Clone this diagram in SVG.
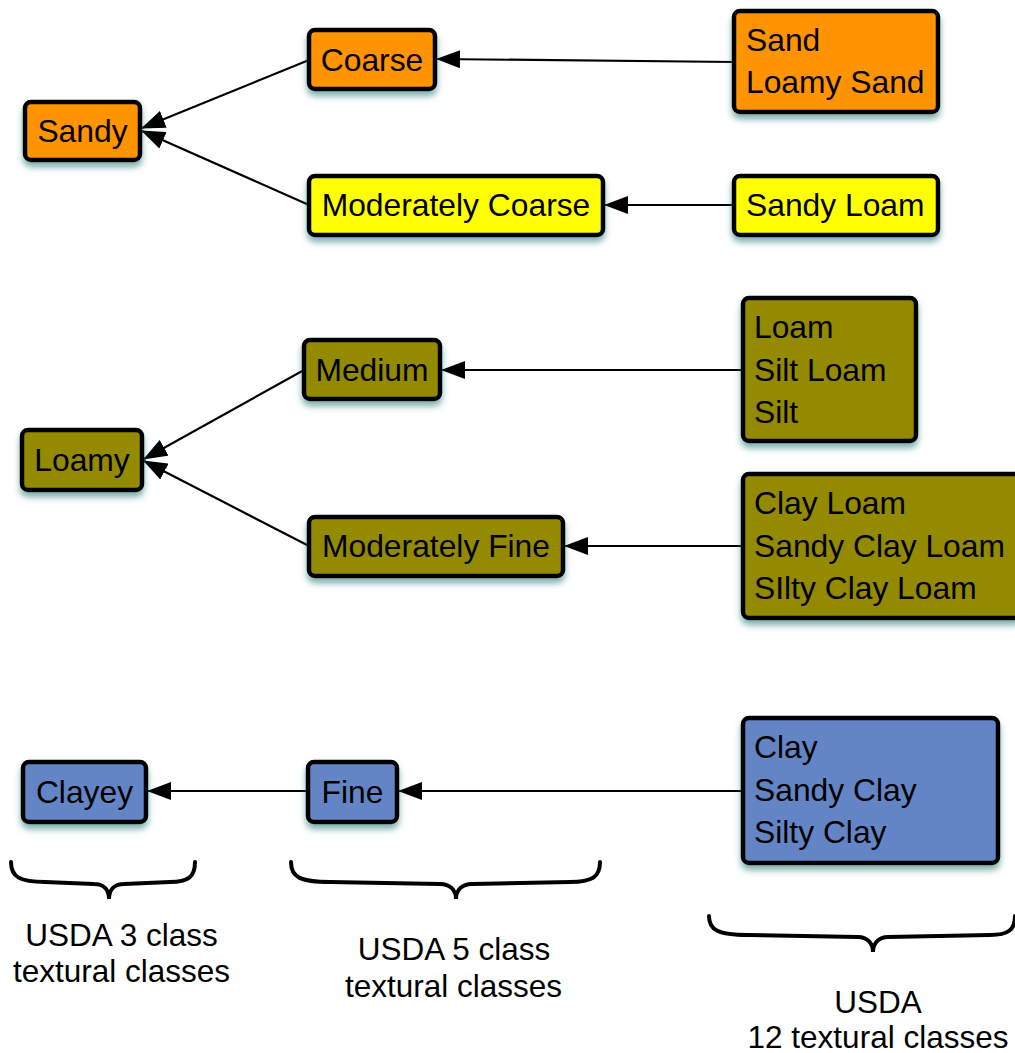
<svg xmlns="http://www.w3.org/2000/svg" width="1015" height="1053" viewBox="0 0 1015 1053">
<defs>
<filter id="sh" x="-10%" y="-10%" width="120%" height="140%">
<feDropShadow dx="0" dy="5" stdDeviation="3" flood-color="#2f7a7a" flood-opacity="0.6"/>
</filter>
<marker id="ah" viewBox="0 0 24 18" refX="23" refY="9" markerWidth="24" markerHeight="18" markerUnits="userSpaceOnUse" orient="auto">
<path d="M0,0 L24,9 L0,18 z" fill="#000"/>
</marker>
</defs>
<style>
.box{stroke:#000;stroke-width:4.5;filter:url(#sh)}
.or{fill:#FF9300}
.ye{fill:#FFFF00}
.ol{fill:#948A00}
.bl{fill:#6385C6}
text{font-family:"Liberation Sans",Arial,sans-serif;font-size:31.8px;fill:#000}
.c{text-anchor:middle}
.lbl{font-size:31.5px;text-anchor:middle}
.con line{stroke:#000;stroke-width:2.2;marker-end:url(#ah)}
.brace{fill:none;stroke:#000;stroke-width:4;stroke-linecap:round}
</style>
<rect width="1015" height="1053" fill="#fff"/>
<g class="con" id="connectors">
<line x1="734" y1="62" x2="437" y2="59"/>
<line x1="734" y1="205" x2="605" y2="205"/>
<line x1="309" y1="60" x2="142" y2="128"/>
<line x1="309" y1="205" x2="142" y2="131"/>
<line x1="743" y1="370" x2="442" y2="370"/>
<line x1="743" y1="546" x2="565" y2="546"/>
<line x1="304" y1="370" x2="144" y2="459"/>
<line x1="309" y1="546" x2="144" y2="461"/>
<line x1="308" y1="791" x2="148" y2="791"/>
<line x1="743" y1="791" x2="399" y2="791"/>
</g>
<g id="sandy"><rect class="box or" x="25" y="102" width="115" height="58" rx="6"/><text class="c" x="82.5" y="142">Sandy</text></g>
<g id="coarse"><rect class="box or" x="309" y="30" width="126" height="59" rx="6"/><text class="c" x="372" y="71">Coarse</text></g>
<g id="modcoarse"><rect class="box ye" x="309" y="176" width="294" height="59" rx="6"/><text class="c" x="456" y="216">Moderately Coarse</text></g>
<g id="sand"><rect class="box or" x="734" y="11" width="204" height="101" rx="6"/><text x="746" y="51">Sand</text><text x="746" y="93">Loamy Sand</text></g>
<g id="sandyloam"><rect class="box ye" x="734" y="176" width="204" height="59" rx="6"/><text x="746" y="216">Sandy Loam</text></g>
<g id="loamy"><rect class="box ol" x="22" y="430" width="120" height="60" rx="6"/><text class="c" x="82" y="471">Loamy</text></g>
<g id="medium"><rect class="box ol" x="304" y="340" width="136" height="59" rx="6"/><text class="c" x="372" y="381">Medium</text></g>
<g id="modfine"><rect class="box ol" x="309" y="517" width="254" height="59" rx="6"/><text class="c" x="436" y="557">Moderately Fine</text></g>
<g id="loam"><rect class="box ol" x="743" y="298" width="173" height="143" rx="6"/><text x="754" y="338">Loam</text><text x="754" y="381">Silt Loam</text><text x="754" y="423">Silt</text></g>
<g id="clayloam"><rect class="box ol" x="743" y="474" width="278" height="144" rx="6"/><text x="754" y="514">Clay Loam</text><text x="754" y="557">Sandy Clay Loam</text><text x="754" y="599">SIlty Clay Loam</text></g>
<g id="clayey"><rect class="box bl" x="23" y="762" width="123" height="60" rx="6"/><text class="c" x="84.5" y="803">Clayey</text></g>
<g id="fine"><rect class="box bl" x="308" y="762" width="89" height="60" rx="6"/><text class="c" x="352.5" y="803">Fine</text></g>
<g id="clay"><rect class="box bl" x="743" y="718" width="255" height="145" rx="6"/><text x="754" y="758">Clay</text><text x="754" y="801">Sandy Clay</text><text x="754" y="843">Silty Clay</text></g>
<g id="braces">
<path class="brace" d="M11,862 C11,877 20,882 45,882 L94,884 C104,884 109,890 109,899 C109,890 114,884 124,884 L170,882 C188,882 195,877 195,862"/>
<path class="brace" d="M291,862 C291,877 300,882 330,882 L440,884 C450,884 456,890 456,899 C456,890 462,884 472,884 L570,882 C592,882 600,877 600,862"/>
<path class="brace" d="M709,916 C709,930 718,935 748,935 L858,937 C867,937 873,943 873,952 C873,943 879,937 888,937 L990,935 C1008,935 1015,930 1015,916"/>
</g>
<g id="labels">
<text class="lbl" x="121.5" y="946">USDA 3 class</text>
<text class="lbl" x="121.5" y="982">textural classes</text>
<text class="lbl" x="454" y="960">USDA 5 class</text>
<text class="lbl" x="453.5" y="997">textural classes</text>
<text class="lbl" x="878" y="1013">USDA</text>
<text class="lbl" x="878" y="1048">12 textural classes</text>
</g>
</svg>
